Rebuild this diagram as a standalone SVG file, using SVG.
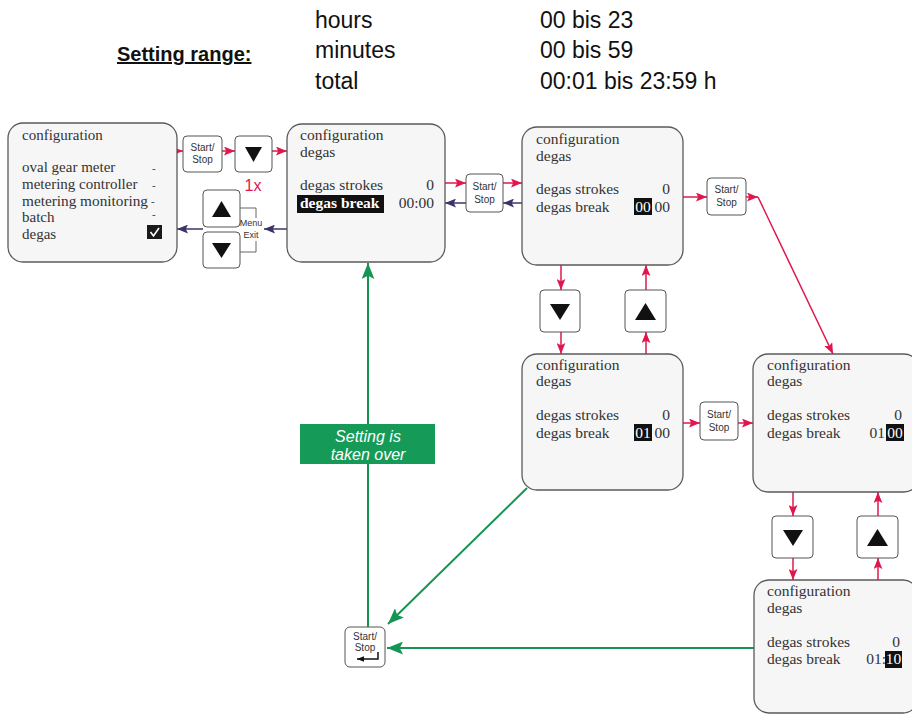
<svg xmlns="http://www.w3.org/2000/svg" width="912" height="716" viewBox="0 0 912 716">
<style>
.hdr{font-family:"Liberation Sans",Arial,sans-serif;font-size:23px;fill:#111}
.box{fill:#f6f6f6;stroke:#5a5a5a;stroke-width:1.3}
.btn{fill:#fff;stroke:#555;stroke-width:1}
.st{font-family:"Liberation Sans",Arial,sans-serif;font-size:10px;fill:#333;text-anchor:middle}
.sr{font-family:"Liberation Serif","Times New Roman",serif;font-size:15.5px;fill:#333}
.sl{font-family:"Liberation Serif","Times New Roman",serif;font-size:15px;fill:#333}
.dash{font-family:"Liberation Serif","Times New Roman",serif;font-size:11px;fill:#333}
.srw{font-family:"Liberation Serif","Times New Roman",serif;font-size:15.5px;fill:#fff}
.r{text-anchor:end}
.tri{fill:#111}
.red{stroke:#e0174c;stroke-width:1.5;fill:none;marker-end:url(#ar)}
.blue{stroke:#3a3468;stroke-width:1.5;fill:none;marker-end:url(#ab)}
.grn{stroke:#159553;stroke-width:2;fill:none}
</style>
<defs>
<marker id="ar" viewBox="0 0 10 8" refX="10" refY="4" markerWidth="11" markerHeight="9" markerUnits="userSpaceOnUse" orient="auto"><path d="M0,0 L10,4 L0,8 L2,4 z" fill="#e0174c"/></marker>
<marker id="ab" viewBox="0 0 10 8" refX="10" refY="4" markerWidth="11" markerHeight="9" markerUnits="userSpaceOnUse" orient="auto"><path d="M0,0 L10,4 L0,8 L2,4 z" fill="#3a3468"/></marker>
<marker id="ag" viewBox="0 0 10 8" refX="10" refY="4" markerWidth="16" markerHeight="13" markerUnits="userSpaceOnUse" orient="auto"><path d="M0,0 L10,4 L0,8 L2,4 z" fill="#159553"/></marker>
<marker id="ak" viewBox="0 0 10 8" refX="10" refY="4" markerWidth="7" markerHeight="6" markerUnits="userSpaceOnUse" orient="auto"><path d="M0,0 L10,4 L0,8 z" fill="#111"/></marker>
</defs>

<g id="header">
<text x="117" y="61" font-family="Liberation Sans, Arial, sans-serif" font-size="20" font-weight="bold" fill="#111" text-decoration="underline">Setting range:</text>
<text class="hdr" x="315" y="28">hours</text>
<text class="hdr" x="315" y="58">minutes</text>
<text class="hdr" x="315" y="89">total</text>
<text class="hdr" x="540" y="28">00 bis 23</text>
<text class="hdr" x="540" y="58">00 bis 59</text>
<text class="hdr" x="540" y="89">00:01 bis 23:59 h</text>
</g>

<g id="connectors">
<line class="red" x1="177" y1="151" x2="183" y2="151"/>
<line class="red" x1="222" y1="151" x2="235" y2="151"/>
<line class="red" x1="272" y1="151" x2="287" y2="151"/>
<line class="blue" x1="287" y1="229" x2="264" y2="229"/>
<line class="blue" x1="203" y1="229" x2="177" y2="229"/>
<line class="red" x1="445" y1="183" x2="466" y2="183"/>
<line class="red" x1="503" y1="183" x2="522" y2="183"/>
<line class="blue" x1="522" y1="203" x2="503" y2="203"/>
<line class="blue" x1="466" y1="203" x2="445" y2="203"/>
<line class="red" x1="683" y1="197" x2="707" y2="197"/>
<line class="red" x1="746" y1="197" x2="758" y2="197"/>
<line class="red" x1="758" y1="197" x2="833" y2="354"/>
<line class="red" x1="561" y1="265" x2="561" y2="290"/>
<line class="red" x1="561" y1="332" x2="561" y2="354"/>
<line class="red" x1="646" y1="354" x2="646" y2="332"/>
<line class="red" x1="646" y1="290" x2="646" y2="265"/>
<line class="red" x1="683" y1="423" x2="700" y2="423"/>
<line class="red" x1="738" y1="423" x2="753" y2="423"/>
<line class="red" x1="793" y1="492" x2="793" y2="516"/>
<line class="red" x1="793" y1="558" x2="793" y2="580"/>
<line class="red" x1="878" y1="580" x2="878" y2="558"/>
<line class="red" x1="878" y1="516" x2="878" y2="492"/>
<line class="grn" x1="368" y1="627" x2="368" y2="263" marker-end="url(#ag)"/>
<line class="grn" x1="527" y1="488" x2="388" y2="624" marker-end="url(#ag)"/>
<line class="grn" x1="754" y1="648" x2="387" y2="648" marker-end="url(#ag)"/>
</g>

<g id="box1">
<rect class="box" x="8" y="123" width="169" height="139" rx="15"/>
<text class="sl" x="22" y="140">configuration</text>
<text class="sl" x="22" y="172">oval gear meter</text>
<text class="sl" x="22" y="189">metering controller</text>
<text class="sl" x="22" y="206" textLength="126" lengthAdjust="spacingAndGlyphs">metering monitoring</text>
<text class="sl" x="22" y="222">batch</text>
<text class="sl" x="22" y="239">degas</text>
<text class="dash" x="152" y="172">-</text>
<text class="dash" x="152" y="189">-</text>
<text class="dash" x="151" y="205">-</text>
<text class="dash" x="152" y="218">-</text>
<rect x="147" y="225" width="15" height="14" fill="#1a1a1a"/>
<path d="M150.5,232 L153.5,236 L159,228" stroke="#fff" stroke-width="1.6" fill="none"/>
</g>

<g id="btn-start1">
<rect class="btn" x="183" y="136" width="39" height="36" rx="4"/>
<text class="st" x="202.5" y="151">Start/</text>
<text class="st" x="202.5" y="163">Stop</text>
</g>
<g id="btn-down1">
<rect class="btn" x="235" y="136" width="37" height="36" rx="4"/>
<polygon class="tri" points="245,147 262,147 253.5,162"/>
<text x="253" y="191" font-family="Liberation Sans, Arial, sans-serif" font-size="16" fill="#e0174c" text-anchor="middle">1x</text>
</g>
<g id="btn-menu-exit">
<rect class="btn" x="203" y="190" width="37" height="37" rx="4"/>
<polygon class="tri" points="212,217 231,217 221.5,201"/>
<rect class="btn" x="203" y="232" width="37" height="36" rx="4"/>
<polygon class="tri" points="212,243 231,243 221.5,258"/>
<polyline points="240,208 256,208 256,218" fill="none" stroke="#666" stroke-width="1"/>
<polyline points="256,241 256,252 240,252" fill="none" stroke="#666" stroke-width="1"/>
<text x="251" y="226" font-family="Liberation Sans, Arial, sans-serif" font-size="9" fill="#333" text-anchor="middle">Menu</text>
<text x="251" y="238" font-family="Liberation Sans, Arial, sans-serif" font-size="9" fill="#333" text-anchor="middle">Exit</text>
</g>

<g id="box2">
<rect class="box" x="287" y="124" width="158" height="138" rx="15"/>
<text class="sr" x="300" y="140">configuration</text>
<text class="sr" x="300" y="157">degas</text>
<text class="sr" x="300" y="190">degas strokes</text>
<text class="sr r" x="434" y="190">0</text>
<rect x="297" y="195" width="87" height="18" fill="#111"/>
<text class="srw" x="300" y="208" font-weight="bold">degas break</text>
<text class="sr r" x="434" y="208">00:00</text>
</g>

<g id="btn-start2">
<rect class="btn" x="466" y="174" width="37" height="38" rx="4"/>
<text class="st" x="484.5" y="190">Start/</text>
<text class="st" x="484.5" y="203">Stop</text>
</g>

<g id="box3">
<rect class="box" x="522" y="127" width="161" height="138" rx="15"/>
<text class="sr" x="536" y="144">configuration</text>
<text class="sr" x="536" y="161">degas</text>
<text class="sr" x="536" y="194">degas strokes</text>
<text class="sr r" x="670" y="194">0</text>
<text class="sr" x="536" y="212">degas break</text>
<rect x="634" y="198" width="18" height="17" fill="#111"/>
<text class="srw" x="643" y="212" text-anchor="middle">00</text>
<text class="sr r" x="670" y="212">00</text>
</g>

<g id="btn-start3">
<rect class="btn" x="707" y="178" width="39" height="37" rx="4"/>
<text class="st" x="726.5" y="193">Start/</text>
<text class="st" x="726.5" y="206">Stop</text>
</g>

<g id="btn-down2">
<rect class="btn" x="540" y="290" width="40" height="42" rx="4"/>
<polygon class="tri" points="550,304 570,304 560,320"/>
</g>
<g id="btn-up2">
<rect class="btn" x="625" y="290" width="41" height="42" rx="4"/>
<polygon class="tri" points="635,320 656,320 645.5,303"/>
</g>

<g id="box4">
<rect class="box" x="522" y="354" width="161" height="136" rx="15"/>
<text class="sr" x="536" y="370">configuration</text>
<text class="sr" x="536" y="386">degas</text>
<text class="sr" x="536" y="420">degas strokes</text>
<text class="sr r" x="670" y="420">0</text>
<text class="sr" x="536" y="438">degas break</text>
<rect x="634" y="424" width="18" height="17" fill="#111"/>
<text class="srw" x="643" y="438" text-anchor="middle">01</text>
<text class="sr r" x="670" y="438">00</text>
</g>

<g id="btn-start4">
<rect class="btn" x="700" y="402" width="38" height="38" rx="4"/>
<text class="st" x="719" y="418">Start/</text>
<text class="st" x="719" y="431">Stop</text>
</g>

<g id="box5">
<rect class="box" x="753" y="354" width="166" height="138" rx="15"/>
<text class="sr" x="767" y="370">configuration</text>
<text class="sr" x="767" y="386">degas</text>
<text class="sr" x="767" y="420">degas strokes</text>
<text class="sr r" x="902" y="420">0</text>
<text class="sr" x="767" y="438">degas break</text>
<text class="sr r" x="885" y="438">01</text>
<rect x="886" y="424" width="18" height="17" fill="#111"/>
<text class="srw" x="895" y="438" text-anchor="middle">00</text>
</g>

<g id="btn-down3">
<rect class="btn" x="772" y="516" width="41" height="42" rx="4"/>
<polygon class="tri" points="783,530 803,530 793,546"/>
</g>
<g id="btn-up3">
<rect class="btn" x="857" y="516" width="41" height="42" rx="4"/>
<polygon class="tri" points="867,546 888,546 877.5,529"/>
</g>

<g id="box6">
<rect class="box" x="754" y="580" width="164" height="133" rx="15"/>
<text class="sr" x="767" y="596">configuration</text>
<text class="sr" x="767" y="613">degas</text>
<text class="sr" x="767" y="647">degas strokes</text>
<text class="sr r" x="900" y="647">0</text>
<text class="sr" x="767" y="664">degas break</text>
<text class="sr r" x="886" y="664">01:</text>
<rect x="885" y="651" width="17" height="17" fill="#111"/>
<text class="srw" x="893.5" y="664" text-anchor="middle">10</text>
</g>

<g id="btn-enter">
<rect class="btn" x="345" y="627" width="40" height="40" rx="5"/>
<text class="st" x="365" y="640">Start/</text>
<text class="st" x="365" y="651">Stop</text>
<polyline points="378,652 378,659 357,659" fill="none" stroke="#111" stroke-width="1.5" marker-end="url(#ak)"/>
</g>

<g id="label-taken-over">
<rect x="300" y="424" width="135" height="40" fill="#169a58"/>
<text x="368" y="442" font-family="Liberation Sans, Arial, sans-serif" font-size="16" font-style="italic" fill="#fff" text-anchor="middle">Setting is</text>
<text x="368" y="460" font-family="Liberation Sans, Arial, sans-serif" font-size="16" font-style="italic" fill="#fff" text-anchor="middle">taken over</text>
</g>
</svg>
